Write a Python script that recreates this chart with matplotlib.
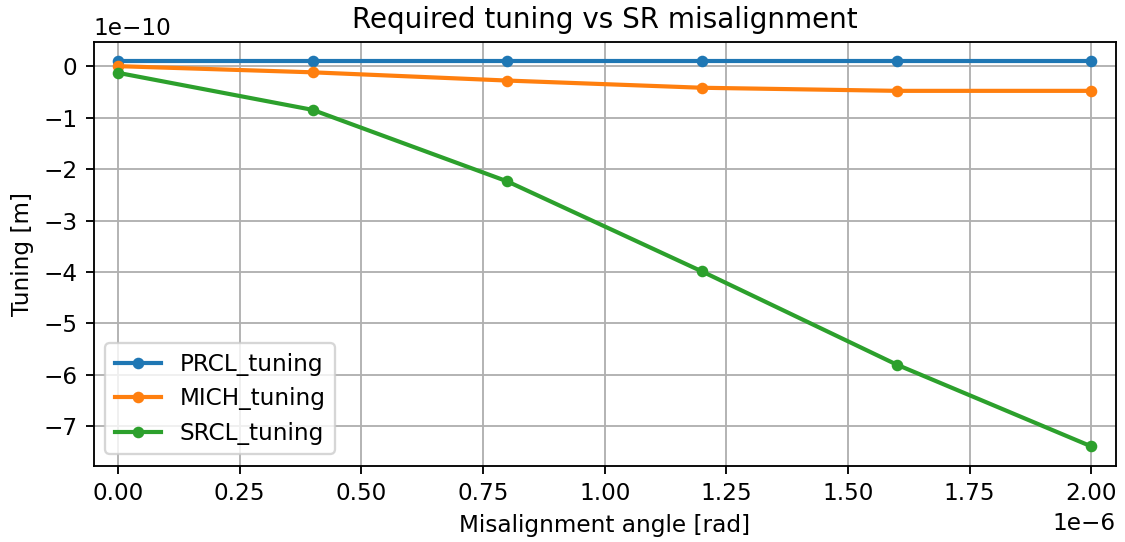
import numpy as np
import matplotlib.pyplot as plt

# misalignment angles [rad]
angle = [0.0, 0.4e-6, 0.8e-6, 1.2e-6, 1.6e-6, 2.0e-6]

# required tuning [m]
prcl_tuning = [0.10e-10, 0.10e-10, 0.10e-10, 0.10e-10, 0.10e-10, 0.10e-10]
mich_tuning = [0.0, -0.12e-10, -0.28e-10, -0.42e-10, -0.48e-10, -0.48e-10]
srcl_tuning = [-0.13e-10, -0.85e-10, -2.24e-10, -3.99e-10, -5.80e-10, -7.39e-10]

fig, ax = plt.subplots(figsize=(1125 / 166.7, 542 / 166.7), dpi=166.7)
fig.subplots_adjust(left=0.0833, right=0.9917, top=0.923, bottom=0.1408)

ax.plot(angle, prcl_tuning, 'o-', lw=1.8, ms=4, label='PRCL_tuning')
ax.plot(angle, mich_tuning, 'o-', lw=1.8, ms=4, label='MICH_tuning')
ax.plot(angle, srcl_tuning, 'o-', lw=1.8, ms=4, label='SRCL_tuning')
ax.margins(x=0.025)

ax.grid(True)
ax.set_title('Required tuning vs SR misalignment')
ax.set_xlabel('Misalignment angle [rad]')
ax.set_ylabel('Tuning [m]')
ax.legend(loc='lower left')

plt.savefig('out.png')
